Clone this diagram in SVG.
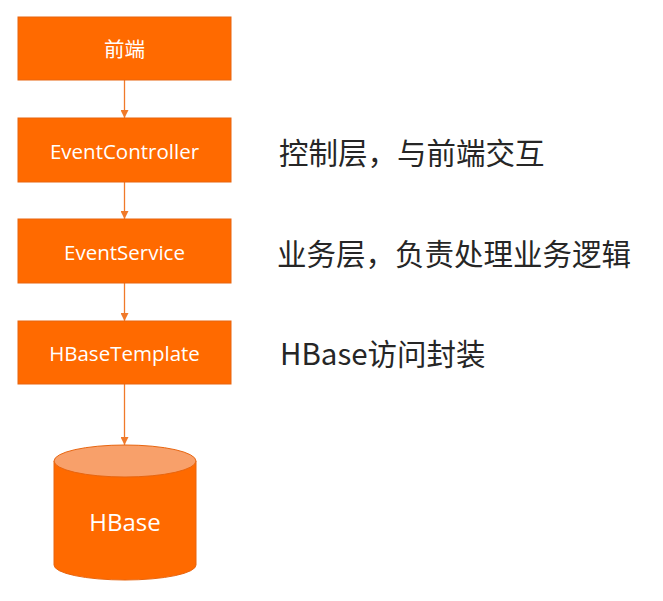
<svg xmlns="http://www.w3.org/2000/svg" width="663" height="601" viewBox="0 0 663 601">
<style>
.box{fill:#FF6A00;stroke:#E8650F;stroke-width:1}
.lbl{fill:#FFFFFF;font-family:"Open Sans","Noto Sans CJK SC",sans-serif;font-size:20.5px;text-anchor:middle;dominant-baseline:central}
.note{fill:#262626;font-family:"Noto Sans CJK SC",sans-serif;font-size:29.5px;dominant-baseline:central}
.conn{stroke:#F07A2A;stroke-width:1.3;fill:none;marker-end:url(#arr)}
</style>
<defs>
<marker id="arr" viewBox="0 0 10 10" refX="10" refY="5" markerWidth="8" markerHeight="8" markerUnits="userSpaceOnUse" orient="auto">
<path d="M0,0 L10,5 L0,10 z" fill="#F07A2A"/>
</marker>
</defs>
<rect width="663" height="601" fill="#FFFFFF"/>
<g id="connectors">
<line class="conn" x1="124.5" y1="80" x2="124.5" y2="118"/>
<line class="conn" x1="124.5" y1="182" x2="124.5" y2="219"/>
<line class="conn" x1="124.5" y1="283" x2="124.5" y2="321"/>
<line class="conn" x1="124.5" y1="384" x2="124.5" y2="445"/>
</g>
<g id="frontend">
<rect class="box" x="18" y="17" width="213" height="63"/>
<text class="lbl" x="124.5" y="49">前端</text>
</g>
<g id="controller">
<rect class="box" x="18" y="118" width="213" height="64"/>
<text class="lbl" x="124.5" y="151">EventController</text>
</g>
<g id="service">
<rect class="box" x="18" y="219" width="213" height="64"/>
<text class="lbl" x="124.5" y="252">EventService</text>
</g>
<g id="template">
<rect class="box" x="18" y="321" width="213" height="63"/>
<text class="lbl" x="124.5" y="353">HBaseTemplate</text>
</g>
<g id="hbase">
<path d="M54,461 L54,565 A71,15 0 0 0 196,565 L196,461 Z" fill="#FF6A00" stroke="#E8650F" stroke-width="1"/>
<ellipse cx="125" cy="461" rx="71" ry="16" fill="#F8A06A" stroke="#E8650F" stroke-width="1"/>
<text class="lbl" x="125" y="521" style="font-size:24px">HBase</text>
</g>
<g id="notes">
<text class="note" x="279" y="151">控制层，与前端交互</text>
<text class="note" x="277" y="252">业务层，负责处理业务逻辑</text>
<text class="note" x="280" y="352">HBase访问封装</text>
</g>
</svg>
